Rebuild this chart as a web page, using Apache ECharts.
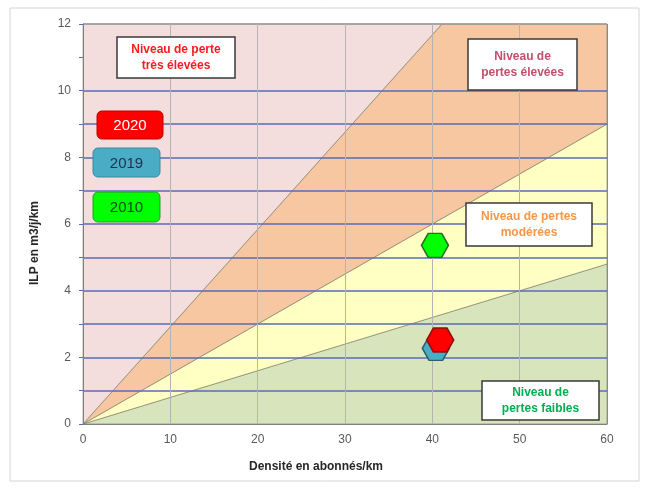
<!DOCTYPE html>
<html>
<head>
<meta charset="utf-8">
<script src="https://cdn.jsdelivr.net/npm/echarts@6/dist/echarts.min.js"></script>
<style>html,body{margin:0;padding:0;background:#fff}#c{width:650px;height:490px}</style>
</head>
<body>
<div id="c"></div>
<script>
// Zones (polygon vertices in data units: [density, ILP])
const zoneLow = [[0,0],[60,0],[60,4.8]];
const zoneModerate = [[0,0],[60,4.8],[60,9]];
const zoneHigh = [[0,0],[60,9],[60,12],[41.1,12]];
const zoneVeryHigh = [[0,0],[41.1,12],[0,12]];
const zoneLabels = ['Niveau de\npertes faibles','Niveau de pertes\nmodérées','Niveau de\npertes élevées','Niveau de perte\ntrès élevées'];

// Points
const years = ['2019','2020','2010'];
const densities = [40.4, 40.9, 40.3];
const ilp = [2.27, 2.52, 5.36];

// Axis ticks
const xTicks = [0,10,20,30,40,50,60];
const yTicks = [0,2,4,6,8,10,12];

const zones = [zoneLow, zoneModerate, zoneHigh, zoneVeryHigh];
const zoneFill = ['#d8e4bc','#ffffc4','#f6c7a0','#f3dedd'];
const yearFill = {'2020':'#ff0000','2019':'#4bacc6','2010':'#00ff00'};
const yearStroke = {'2020':'#8a1010','2019':'#2a5f70','2010':'#2a6d2a'};
const hexPath = 'path://M0,10L6,0L18,0L24,10L18,20L6,20Z';

const blue = '#5a6db3';
const yLineColors = ['transparent'];
for (let i = 1; i <= 10; i++) yLineColors.push(blue);
yLineColors.push('transparent', '#9a9a9a');
const xLineColors = ['transparent','#b4b4b4','#b4b4b4','#b4b4b4','#b4b4b4','#b4b4b4','#8a8a8a'];

const chart = echarts.init(document.getElementById('c'), null, {renderer:'canvas'});
const F = '"Liberation Sans", Arial, sans-serif';

function box(x, y, w, h, lines, color, size) {
  return [
    {type:'rect', z:20, shape:{x:x, y:y, width:w, height:h}, style:{fill:'#ffffff', stroke:'#3a3a3a', lineWidth:1.5}},
    {type:'text', z:21, style:{text:lines, x:x + w/2, y:y + h/2, align:'center', verticalAlign:'middle', textAlign:'center', textVerticalAlign:'middle', fill:color, font:'bold ' + size + 'px ' + F, lineHeight:16}}
  ];
}
function yearBox(x, y, w, h, label, fill, stroke, color) {
  return [
    {type:'rect', z:20, shape:{x:x, y:y, width:w, height:h, r:5}, style:{fill:fill, stroke:stroke, lineWidth:1}},
    {type:'text', z:21, style:{text:label, x:x + w/2, y:y + h/2 + 1, align:'center', verticalAlign:'middle', textAlign:'center', textVerticalAlign:'middle', fill:color, font:'15px ' + F}}
  ];
}

const graphics = [].concat(
  [{type:'rect', z:0, shape:{x:10, y:8, width:629, height:473}, style:{fill:'none', stroke:'#d4d4d4', lineWidth:1}}],
  box(117, 37, 118, 41, zoneLabels[3], '#ff1a1a', 12),
  box(468, 39, 109, 51, zoneLabels[2], '#c0506d', 12),
  box(466, 203, 126, 43, zoneLabels[1], '#f79646', 12),
  box(482, 381, 117, 39, zoneLabels[0], '#00b050', 12),
  yearBox(97, 111, 66, 28, '2020', yearFill['2020'], '#c00000', '#ffffff'),
  yearBox(93, 148, 67, 29, '2019', yearFill['2019'], '#3a8aa0', '#1f3050'),
  yearBox(93, 192, 67, 30, '2010', yearFill['2010'], '#2a9a2a', '#1e3d1e'),
  [
    {type:'text', z:21, style:{text:'Densité en abonnés/km', x:316, y:467, align:'center', verticalAlign:'middle', textAlign:'center', textVerticalAlign:'middle', fill:'#262626', font:'bold 12px ' + F}},
    {type:'text', z:21, rotation:Math.PI/2, x:35, y:243, style:{text:'ILP en m3/j/km', x:0, y:0, align:'center', verticalAlign:'middle', textAlign:'center', textVerticalAlign:'middle', fill:'#262626', font:'bold 12px ' + F}}
  ]
);

const option = {
  animation:false,
  backgroundColor:'#ffffff',
  grid:{left:83, right:43, top:24, bottom:66, containLabel:false},
  xAxis:{
    type:'value', min:xTicks[0], max:xTicks[xTicks.length-1], interval:10, z:5,
    axisLine:{show:true, lineStyle:{color:'#808080', width:1}},
    axisTick:{show:false},
    axisLabel:{color:'#595959', fontSize:12, fontFamily:F, margin:10, formatter:v => xTicks.indexOf(v) >= 0 ? String(v) : ''},
    splitLine:{show:true, lineStyle:{color:xLineColors, width:1}}
  },
  yAxis:{
    type:'value', min:yTicks[0], max:yTicks[yTicks.length-1], interval:1, z:5,
    axisLine:{show:true, lineStyle:{color:'#808080', width:1}},
    axisTick:{show:true, length:4, lineStyle:{color:blue}},
    axisLabel:{color:'#595959', fontSize:12, fontFamily:F, margin:12, formatter:v => yTicks.indexOf(v) >= 0 ? String(v) : ''},
    splitLine:{show:true, lineStyle:{color:yLineColors, width:1.5}}
  },
  graphic:graphics,
  series:[
    {
      type:'custom', z:1, silent:true,
      data:zones.map(z => z[0]),
      renderItem:(params, api) => {
        const pts = zones[params.dataIndex].map(p => api.coord(p));
        return {type:'polygon', shape:{points:pts}, style:{fill:zoneFill[params.dataIndex], stroke:'rgba(110,110,90,0.55)', lineWidth:1}};
      }
    }
  ].concat(years.map((y, i) => ({
    type:'scatter', name:y, z:10 + i,
    symbol:hexPath, symbolSize:[27,24],
    itemStyle:{color:yearFill[y], borderColor:yearStroke[y], borderWidth:1.5, opacity:1},
    data:[[densities[i], ilp[i]]]
  })))
};
chart.setOption(option);
</script>
</body>
</html>
